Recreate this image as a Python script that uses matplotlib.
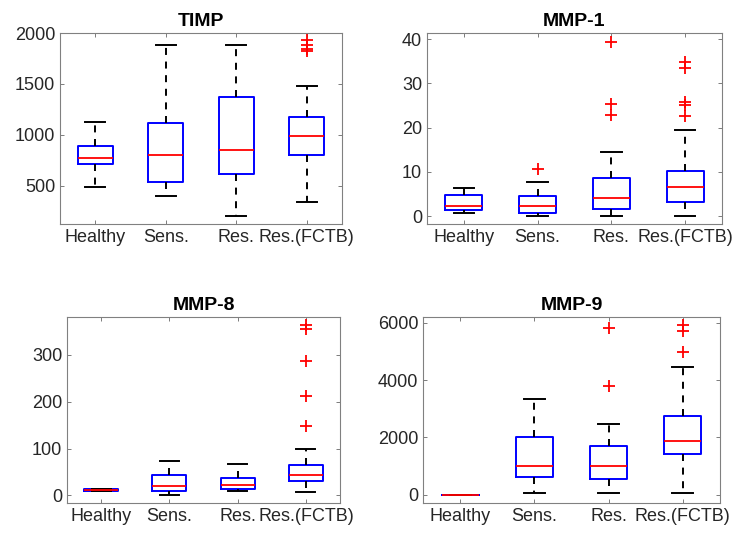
import matplotlib
matplotlib.use("Agg")
import matplotlib.pyplot as plt

plt.rcParams["font.family"] = ["Liberation Sans", "DejaVu Sans"]

GROUPS = ["Healthy", "Sens.", "Res.", "Res.(FCTB)"]

# per panel: whislo, q1, med, q3, whishi for each group, plus outliers
TIMP_STATS = [
    (485, 712, 776, 886, 1122),
    (400, 540, 798, 1115, 1878),
    (203, 613, 847, 1375, 1878),
    (342, 798, 988, 1173, 1476),
]
TIMP_FLIERS = [[], [], [], [1928, 1885, 1843, 1820]]

MMP1_STATS = [
    (0.6, 1.4, 2.2, 4.7, 6.4),
    (0.1, 0.8, 2.3, 4.6, 7.7),
    (0.1, 1.6, 4.1, 8.5, 14.4),
    (0.1, 3.2, 6.5, 10.3, 19.4),
]
MMP1_FLIERS = [[], [10.6], [22.9, 25.3, 39.3], [22.6, 25.1, 25.8, 33.5, 34.8]]

MMP8_STATS = [
    (9, 9, 11, 13, 13),
    (2, 9, 21, 43, 73),
    (9, 14, 23, 37, 67),
    (7, 31, 44, 64, 99),
]
MMP8_FLIERS = [[], [], [], [148, 211, 286, 354, 362]]

MMP9_STATS = [
    (5, 5, 5, 5, 5),
    (58, 605, 1000, 2000, 3337),
    (70, 558, 1000, 1686, 2477),
    (70, 1419, 1860, 2733, 4460),
]
MMP9_FLIERS = [[], [], [3790, 5800], [4990, 5710, 5905]]

PANELS = [
    ("TIMP", TIMP_STATS, TIMP_FLIERS, (125, 2000), [500, 1000, 1500, 2000]),
    ("MMP-1", MMP1_STATS, MMP1_FLIERS, (-1.8, 41.4), [0, 10, 20, 30, 40]),
    ("MMP-8", MMP8_STATS, MMP8_FLIERS, (-16, 380), [0, 100, 200, 300]),
    ("MMP-9", MMP9_STATS, MMP9_FLIERS, (-290, 6200), [0, 2000, 4000, 6000]),
]

# axes rectangles in pixels: left, right, top, bottom
RECTS = [(60, 342, 33, 224), (427, 722, 33, 224), (67, 340, 317, 503), (423, 720, 317, 503)]

W, H = 734, 533
fig = plt.figure(figsize=(W / 100, H / 100), dpi=100)

for (title, stats, fliers, ylim, yticks), (l, r, t, b) in zip(PANELS, RECTS):
    ax = fig.add_axes([l / W, 1 - b / H, (r - l) / W, (b - t) / H])
    bstats = []
    for (lo, q1, med, q3, hi), fl in zip(stats, fliers):
        bstats.append(dict(whislo=lo, q1=q1, med=med, q3=q3, whishi=hi, fliers=fl))
    ax.bxp(bstats, positions=[1, 2, 3, 4], widths=0.5, capwidths=0.28,
           boxprops=dict(color="blue", linewidth=1.4),
           medianprops=dict(color="red", linewidth=1.3),
           whiskerprops=dict(color="black", linestyle=(0, (3.6, 3.4)), linewidth=1.4),
           capprops=dict(color="black", linewidth=1.4),
           flierprops=dict(marker="+", markeredgecolor="red", markersize=8,
                           markeredgewidth=1.3, linestyle="none"))
    ax.set_xlim(0.5, 4.5)
    ax.set_ylim(*ylim)
    ax.set_yticks(yticks)
    ax.set_xticks([1, 2, 3, 4])
    ax.set_xticklabels(GROUPS)
    ax.set_title(title, fontsize=14, fontweight="bold", pad=5)
    ax.tick_params(direction="in", top=True, right=True, labelsize=13,
                   colors="0.4", labelcolor="#262626", length=3, width=0.6)
    for s in ax.spines.values():
        s.set_color("0.5")
        s.set_linewidth(0.8)

fig.savefig("out.png", dpi=100)
